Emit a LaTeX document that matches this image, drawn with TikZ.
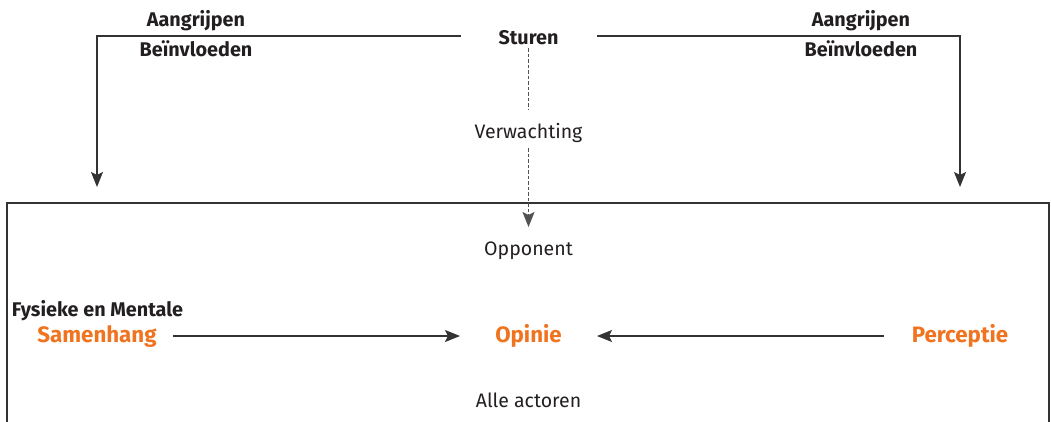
\documentclass[tikz,border=0pt]{standalone}
\usepackage{fontspec}
\setmainfont{Fira Sans}
\usetikzlibrary{arrows.meta}

\definecolor{ink}{HTML}{231F20}
\definecolor{rule}{HTML}{333333}
\definecolor{accent}{HTML}{F0731F}

\tikzset{
  lbl/.style={inner sep=0pt, anchor=base, text=ink, font=\fontsize{19.5}{23}\selectfont},
  boldlbl/.style={lbl, font=\fontsize{19.8}{23}\selectfont\bfseries},
  keylbl/.style={lbl, text=accent, font=\fontsize{22.3}{26}\selectfont\bfseries},
  conn/.style={draw=rule, line width=1.3pt},
  arr/.style={conn, -{Stealth[length=15pt,width=12pt,inset=3pt]}},
  dashline/.style={draw=rule!85, line width=1.3pt, dash pattern=on 3.5pt off 2pt},
  dasharr/.style={dashline, -{Stealth[length=15pt,width=12pt,inset=3pt]}},
}

\begin{document}
\begin{tikzpicture}[x=1pt,y=-1pt]
  \useasboundingbox (0,0) rectangle (1051,421);

  % frame of the arena, open at the bottom
  \draw[conn] (7,430) -- (7,203) -- (1049,203) -- (1049,430);

  % labels
  \node[boldlbl] (sturen) at (528.5,44) {Sturen};
  \node[boldlbl] (aanL) at (196,26) {Aangrijpen};
  \node[boldlbl] (beiL) at (196,56) {Beïnvloeden};
  \node[boldlbl] (aanR) at (861,26) {Aangrijpen};
  \node[boldlbl] (beiR) at (861,56) {Beïnvloeden};
  \node[lbl] (verw) at (528.5,138) {Verwachting};
  \node[lbl] (opp) at (528.5,255) {Opponent};
  \node[boldlbl] (fys) at (97.5,316) {Fysieke en Mentale};
  \node[keylbl] (samen) at (97,342) {Samenhang};
  \node[keylbl] (opinie) at (528.5,342) {Opinie};
  \node[keylbl] (perc) at (960,342) {Perceptie};
  \node[lbl] (alle) at (528.5,407) {Alle actoren};

  % connector end points
  \coordinate (lStart) at (461,36);
  \coordinate (lTip) at (97,187);
  \coordinate (rStart) at (597,36);
  \coordinate (rTip) at (960,187);
  \coordinate (dTop) at (528.5,48);
  \coordinate (dMid1) at (528.5,110);
  \coordinate (dMid2) at (528.5,148);
  \coordinate (dTip) at (528.5,227);
  \coordinate (sStart) at (173,336);
  \coordinate (sTip) at (460,336);
  \coordinate (pStart) at (884,336);
  \coordinate (pTip) at (597,336);

  % steering arrows
  \draw[arr] (lStart) -| (lTip);
  \draw[arr] (rStart) -| (rTip);

  % expectation, dashed
  \draw[dashline] (dTop) -- (dMid1);
  \draw[dasharr] (dMid2) -- (dTip);

  % into opinion
  \draw[arr] (sStart) -- (sTip);
  \draw[arr] (pStart) -- (pTip);
\end{tikzpicture}
\end{document}
